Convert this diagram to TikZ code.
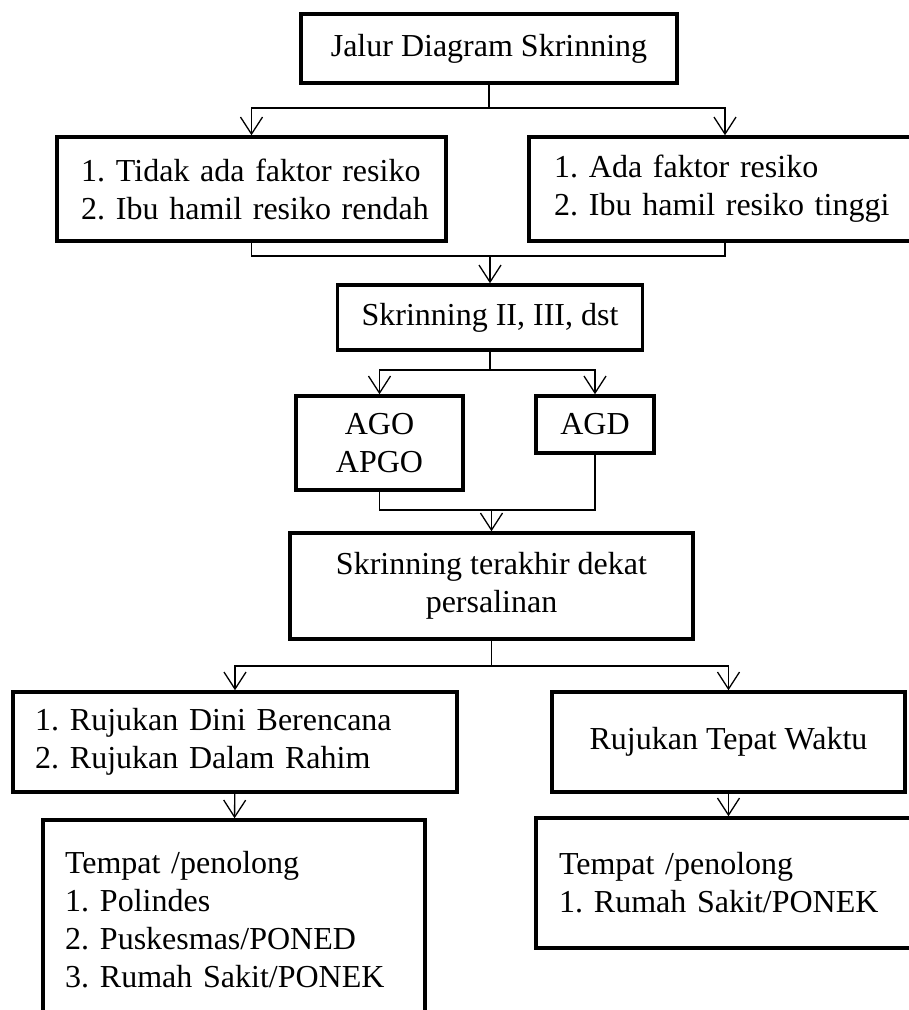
\documentclass[tikz,border=0pt]{standalone}
\usepackage{fontspec}
\setmainfont{Liberation Serif}
\usepackage{tikz}
\usetikzlibrary{positioning,arrows.meta}

\newcommand{\numline}[2]{\mbox{\makebox[35pt][l]{#1}#2}}

\begin{document}
\begin{tikzpicture}[x=1pt, y=1pt,
        font=\fontsize{32}{38}\selectfont,
        box/.style={draw, rectangle, line width=3.5pt, inner ysep=0pt, inner xsep=24pt},
        listbox/.style={box, align=left},
        line/.style={line width=1.3pt},
        arrow/.style={line, -{Straight Barb[length=17pt, width=22pt]}}]
        \useasboundingbox (0,0) rectangle (909,-1010);
        \clip (0,0) rectangle (909,-1010);

        \node[box, minimum width=376pt, minimum height=69pt] (jalur) at (489,-48.5) {Jalur Diagram Skrinning};
        \node[listbox, text width=341pt, minimum height=104pt, below of=jalur, node distance=140.5pt, xshift=-237.5pt] (tidak)
            {\numline{1.}{Tidak ada faktor resiko}\\ \numline{2.}{Ibu hamil resiko rendah}};
        \node[listbox, inner xsep=25pt, text width=342pt, minimum height=104pt, below of=jalur, node distance=140.5pt, xshift=236pt] (ada)
            {\numline{1.}{Ada faktor resiko}\\ \numline{2.}{Ibu hamil resiko tinggi}};
        \node[box, minimum width=304pt, minimum height=65pt, below of=jalur, node distance=269pt, xshift=1pt] (skr2) {Skrinning II, III, dst};
        \node[box, align=center, inner xsep=0pt, minimum width=167pt, minimum height=94pt, below of=skr2, node distance=125.5pt, xshift=-110.5pt] (ago) {AGO\\APGO};
        \node[box, inner xsep=0pt, minimum width=118pt, minimum height=57pt, below of=skr2, node distance=107pt, xshift=105pt] (agd) {AGD};
        \node[box, align=center, inner xsep=0pt, minimum width=403pt, minimum height=106pt, below of=skr2, node distance=268.5pt, xshift=1.5pt] (akhir)
            {Skrinning terakhir dekat\\persalinan};
        \node[listbox, inner xsep=22pt, text width=400pt, minimum height=100pt, below of=akhir, node distance=156pt, xshift=-256.5pt] (dini)
            {\numline{1.}{Rujukan Dini Berencana}\\ \numline{2.}{Rujukan Dalam Rahim}};
        \node[box, inner xsep=0pt, minimum width=353pt, minimum height=100pt, below of=akhir, node distance=156pt, xshift=237pt] (tepat) {Rujukan Tepat Waktu};
        \node[listbox, inner xsep=22pt, text width=338pt, minimum height=200pt, below of=dini, node distance=178pt, xshift=-1pt] (tempatA)
            {\mbox{Tempat /penolong}\\ \numline{1.}{Polindes}\\ \numline{2.}{Puskesmas/PONED}\\ \numline{3.}{Rumah Sakit/PONEK}};
        \node[listbox, inner xsep=23pt, text width=339pt, minimum height=130pt, below of=tepat, node distance=141pt] (tempatB)
            {\mbox{Tempat /penolong}\\ \numline{1.}{Rumah Sakit/PONEK}};

        % split and merge points
        \coordinate[below of=jalur, node distance=59.5pt] (split1);
        \coordinate[above of=skr2, node distance=61.5pt] (merge1);
        \coordinate[below of=skr2, node distance=52.5pt] (split2);
        \coordinate[above of=akhir, node distance=76pt] (merge2);
        \coordinate[below of=akhir, node distance=80pt] (split3);

        \draw[line] (jalur) -- (split1);
        \draw[arrow] (split1) -| (tidak);
        \draw[arrow] (split1) -| (ada);
        \draw[line] (tidak) |- (merge1);
        \draw[line] (ada) |- (merge1);
        \draw[arrow] (merge1) -- (skr2);
        \draw[line] (skr2) -- (split2);
        \draw[arrow] (split2) -| (ago);
        \draw[arrow] (split2) -| (agd);
        \draw[line] (ago) |- (merge2);
        \draw[line] (agd) |- (merge2);
        \draw[arrow] (merge2) -- (akhir);
        \draw[line] (akhir) -- (split3);
        \draw[arrow] (split3) -| (dini);
        \draw[arrow] (split3) -| (tepat);
        \draw[arrow] (dini) -- (tempatA);
        \draw[arrow] (tepat) -- (tempatB);
    \end{tikzpicture}
\end{document}
